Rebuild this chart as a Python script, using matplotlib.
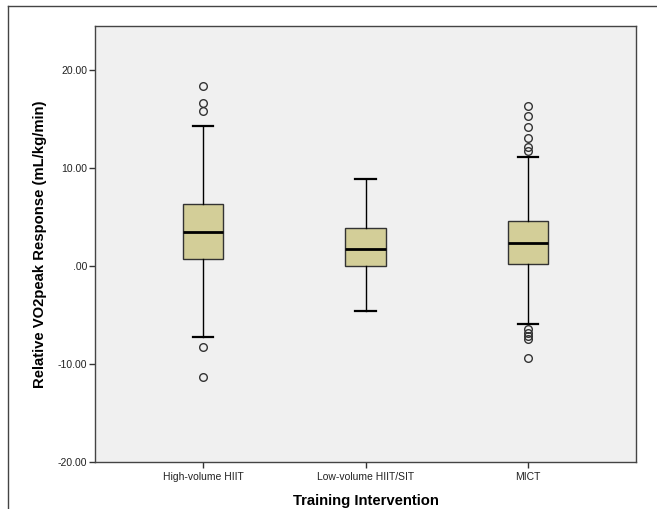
import matplotlib
matplotlib.use('Agg')
import matplotlib.pyplot as plt
from matplotlib.lines import Line2D

# Werte
groups = ['High-volume HIIT', 'Low-volume HIIT/SIT', 'MICT']
q1 = [0.68, 0.0, 0.17]
medians = [3.43, 1.73, 2.35]
q3 = [6.35, 3.91, 4.6]
whisker_low = [-7.2, -4.6, -5.95]
whisker_high = [14.3, 8.84, 11.15]
outliers = [
    [18.4, 16.6, 15.8, -8.3, -11.3],
    [],
    [16.33, 15.3, 14.22, 13.03, 12.11, 11.77, -6.47, -6.8, -7.14, -7.48, -9.35],
]
y_ticks = [-20, -10, 0, 10, 20]
y_tick_labels = ['-20.00', '-10.00', '.00', '10.00', '20.00']

plt.rcParams['font.family'] = ['Liberation Sans', 'DejaVu Sans']

W, H = 657, 509
fig = plt.figure(figsize=(W / 100, H / 100), dpi=100)
ax = fig.add_axes([95 / W, 1 - 462 / H, (636 - 95) / W, (462 - 26) / H])
ax.set_facecolor('#f0f0f0')

stats = []
for i in range(len(groups)):
    stats.append({
        'med': medians[i], 'q1': q1[i], 'q3': q3[i],
        'whislo': whisker_low[i], 'whishi': whisker_high[i],
        'fliers': outliers[i], 'label': groups[i],
    })

edge = '#333333'
ax.bxp(stats, positions=[1, 2, 3], widths=0.25, patch_artist=True,
       boxprops=dict(facecolor='#d3ce98', edgecolor=edge, linewidth=1.0),
       medianprops=dict(color='black', linewidth=2.0),
       whiskerprops=dict(color='black', linewidth=1.0),
       capprops=dict(color='black', linewidth=1.6),
       capwidths=0.125,
       flierprops=dict(marker='o', markerfacecolor='none', markeredgecolor='#333333',
                       markersize=5.5, markeredgewidth=1.0))

ax.set_xlim(1 / 3, 3 + 2 / 3)
ax.set_ylim(-20, 24.5)
ax.set_yticks(y_ticks)
ax.set_yticklabels(y_tick_labels)
ax.tick_params(axis='both', direction='out', length=4, width=1, color='#333333',
               labelsize=7.5, labelcolor='#222222', pad=1.5)
ax.tick_params(axis='x', pad=3)

for s in ax.spines.values():
    s.set_color('#444444')
    s.set_linewidth(1.0)

ax.set_ylabel('Relative VO2peak Response (mL/kg/min)', fontsize=10.7, fontweight='bold',
              labelpad=8)
ax.set_xlabel('Training Intervention', fontsize=10.7, fontweight='bold', labelpad=9)

# Rahmen oben und links
fig.add_artist(Line2D([8 / W, 1], [1 - 6 / H, 1 - 6 / H], color='#444444', linewidth=1.0))
fig.add_artist(Line2D([8 / W, 8 / W], [0, 1 - 6 / H], color='#444444', linewidth=1.0))

fig.savefig('out.png', dpi=100, facecolor='white')
